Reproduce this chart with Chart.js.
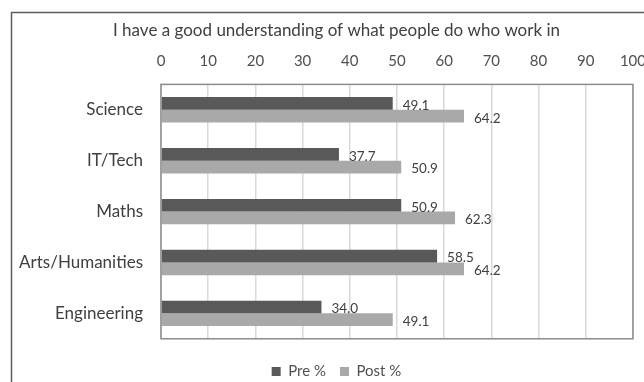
<!DOCTYPE html>
<html>
<head>
<meta charset="utf-8">
<script src="https://cdn.jsdelivr.net/npm/chart.js@4"></script>
<style>
  html, body { margin: 0; padding: 0; background: #fff; overflow: hidden; }
  #wrap { width: 660px; height: 382px; }
</style>
</head>
<body>
<div id="wrap"><canvas id="myChart" width="660" height="382"></canvas></div>
<script>
const categories = ['Science', 'IT/Tech', 'Maths', 'Arts/Humanities', 'Engineering']
const preValues = [49.1, 37.7, 50.9, 58.5, 34.0]
const postValues = [64.2, 50.9, 62.3, 64.2, 49.1]
const xTicks = [0, 10, 20, 30, 40, 50, 60, 70, 80, 90, 100]

const FONT = 'Lato, "Open Sans", sans-serif'
const PAD_LEFT = 39

// outer frame + plot border
const framePlugin = {
    id: 'frame',
    beforeDraw(chart) {
        const c = chart.ctx
        c.save()
        c.fillStyle = '#fff'
        c.fillRect(0, 0, chart.width, chart.height)
        c.strokeStyle = '#5e5e5e'
        c.lineWidth = 1.5
        c.strokeRect(11.5, 12.5, chart.width + 20, chart.height + 20)
        c.restore()
    },
    afterDatasetsDraw(chart) {
        const a = chart.chartArea
        const c = chart.ctx
        c.save()
        c.strokeStyle = '#8c8c8c'
        c.lineWidth = 1.5
        c.strokeRect(a.left, a.top, a.right - a.left, a.bottom - a.top)
        c.restore()
    }
}

// value next to the end of each bar
const valueLabels = {
    id: 'valueLabels',
    afterDatasetsDraw(chart) {
        const c = chart.ctx
        c.save()
        c.font = '13.5px ' + FONT
        c.fillStyle = '#404040'
        c.textAlign = 'left'
        c.textBaseline = 'middle'
        chart.data.datasets.forEach((ds, i) => {
            chart.getDatasetMeta(i).data.forEach((bar, j) => {
                c.fillText(ds.data[j].toFixed(1), bar.x + 10, bar.y + 2)
            })
        })
        c.restore()
    }
}

const ctx = document.getElementById('myChart')
new Chart(ctx, {
    type: 'bar',
    data: {
        labels: categories,
        datasets: [{
            label: 'Pre %',
            data: preValues,
            backgroundColor: '#595959',
            categoryPercentage: 0.5,
            barPercentage: 1.0
        }, {
            label: 'Post %',
            data: postValues,
            backgroundColor: '#a9a9a9',
            categoryPercentage: 0.5,
            barPercentage: 1.0
        }]
    },
    options: {
        indexAxis: 'y',
        responsive: false,
        animation: false,
        layout: { padding: { top: 0, left: PAD_LEFT, right: 26, bottom: -7 } },
        scales: {
            x: {
                position: 'top',
                min: 0,
                max: 100,
                afterBuildTicks: scale => { scale.ticks = xTicks.map(v => ({ value: v })) },
                afterFit: scale => { scale.height = 44 },
                grid: { color: '#d9d9d9', lineWidth: 1.5, drawTicks: false },
                border: { display: false },
                ticks: { padding: 14, color: '#505050', font: { family: FONT, size: 15 } }
            },
            y: {
                afterFit: scale => {
                    scale.width = 161 - PAD_LEFT
                    // long category names run past the axis box, don't clip them
                    scale._computeLabelArea = () => undefined
                },
                grid: { display: false, drawTicks: false },
                border: { display: false },
                ticks: { padding: 18, color: '#404040', font: { family: FONT, size: 17 } }
            }
        },
        plugins: {
            title: {
                display: true,
                text: 'I have a good understanding of what people do who work in',
                color: '#404040',
                font: { family: FONT, size: 17, weight: 'normal' },
                padding: { top: 20, bottom: 0 }
            },
            legend: {
                position: 'bottom',
                title: { display: true, text: ' ', font: { size: 1 }, padding: 5 },
                labels: {
                    boxWidth: 9,
                    boxHeight: 9,
                    padding: 14,
                    color: '#505050',
                    font: { family: FONT, size: 15 }
                }
            },
            tooltip: { enabled: false }
        }
    },
    plugins: [framePlugin, valueLabels]
})
</script>
</body>
</html>
